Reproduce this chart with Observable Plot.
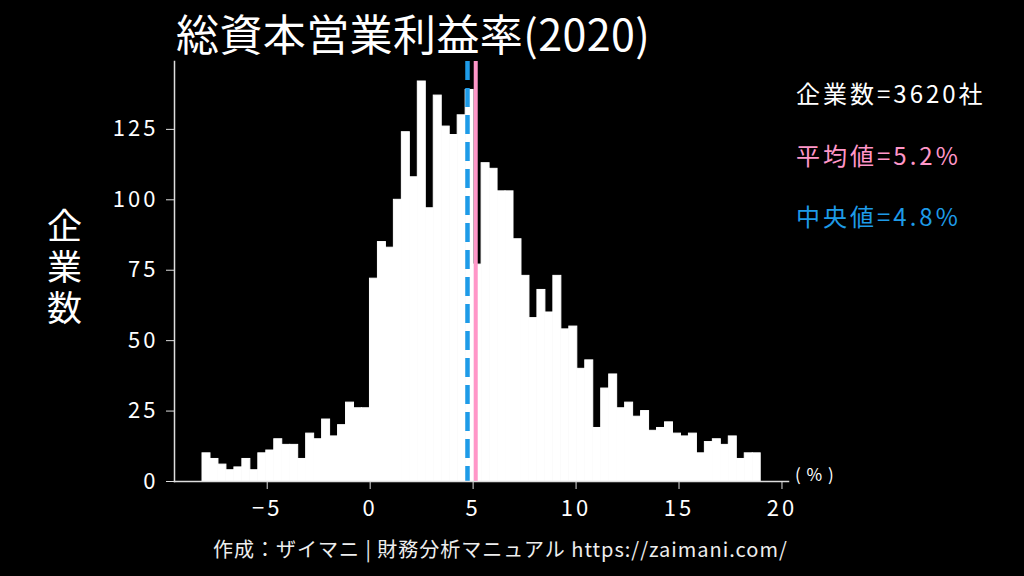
<!DOCTYPE html>
<html>
<head>
<meta charset="utf-8">
<script src="https://cdn.jsdelivr.net/npm/d3@7"></script>
<script src="https://cdn.jsdelivr.net/npm/@observablehq/plot@0.6"></script>
<style>
  html, body { margin: 0; padding: 0; background: #000; }
  #wrap { position: relative; width: 1024px; height: 576px; background: #000; overflow: hidden;
          font-family: "Noto Sans CJK JP", "Noto Sans", sans-serif; color: #fff; }
  #wrap svg { position: absolute; left: 0; top: 0; }
  #wrap svg text { letter-spacing: 3px; }
  .t { position: absolute; white-space: nowrap; line-height: 1; }
</style>
</head>
<body>
<div id="wrap"></div>
<script>
// ---- data ----
const titleText = "総資本営業利益率(2020)";
const yLabel = "企業数";
const unitLabel = "( % )";
const captionText = "作成：ザイマニ | 財務分析マニュアル https://zaimani.com/";
const totalCompanies = 3620;
const meanValue = 5.2;
const medianValue = 4.8;
const binStart = -8.07;     // left edge of first bin (%)
const binEnd = 19.04;       // right edge of last bin (%)
const counts = [
  10, 8, 6, 4, 5, 8, 4, 10, 11, 15, 13, 13, 8, 17, 15, 22, 16, 20, 28, 26, 26,
  72, 85, 83, 100, 124, 108, 142, 97, 137, 126, 123, 130, 139,
  77, 113, 111, 103, 103, 86, 73, 58, 68, 60, 73, 54, 55,
  40, 43, 19, 33, 38, 26, 28, 23, 25, 18, 19, 21, 17, 16, 17, 10, 14, 15, 13, 16, 8, 10, 10
];
const xTicks = [-5, 0, 5, 10, 15, 20];
const yTicks = [0, 25, 50, 75, 100, 125];

// ---- build table ----
const binWidth = (binEnd - binStart) / counts.length;
const bins = counts.map((c, i) => ({ x1: binStart + i * binWidth, x2: binStart + (i + 1) * binWidth, count: c }));

const pink = "#ff96c8";
const blue = "#1e9be8";
const fontFam = '"Noto Sans CJK JP", "Noto Sans", sans-serif';

const chart = Plot.plot({
  width: 1024,
  height: 576,
  marginLeft: 174,
  marginRight: 236,
  marginTop: 61,
  marginBottom: 95,
  style: { background: "transparent", color: "#fff", fontFamily: fontFam },
  x: { domain: [-9.43, 20.39], label: null },
  y: { domain: [0, 149.1], label: null },
  marks: [
    Plot.rect(bins, { x1: "x1", x2: "x2", y1: 0, y2: "count", fill: "#fff", stroke: "#fff", strokeWidth: 1 }),
    Plot.ruleX([medianValue], { stroke: blue, strokeWidth: 4.5, strokeDasharray: "19,8" }),
    Plot.ruleX([meanValue], { stroke: pink, strokeWidth: 4 }),
    Plot.frame({ anchor: "left", stroke: "#ddd", strokeWidth: 1.5 }),
    Plot.frame({ anchor: "bottom", stroke: "#ddd", strokeWidth: 1.5 }),
    Plot.axisX({ ticks: xTicks, tickSize: 8, tickPadding: 11, fontSize: 22, stroke: "#ddd", fill: "#fff", label: null, dx: 1.5 }),
    Plot.axisY({ ticks: yTicks, tickSize: 8, tickPadding: 8, fontSize: 22, stroke: "#ddd", fill: "#fff", label: null })
  ]
});

const wrap = document.getElementById("wrap");
wrap.appendChild(chart);

function addText(text, css) {
  const d = document.createElement("div");
  d.className = "t";
  d.textContent = text;
  Object.assign(d.style, css);
  wrap.appendChild(d);
  return d;
}

addText(titleText, { left: "176px", top: "1px", fontSize: "43px", lineHeight: "1.45", letterSpacing: "0.4px" });
addText(yLabel, { left: "47px", top: "208px", fontSize: "35px", writingMode: "vertical-rl", textOrientation: "upright", letterSpacing: "6px" });
addText(unitLabel, { left: "795px", top: "465px", fontSize: "17px", letterSpacing: "1px" });
addText(captionText, { left: "213px", top: "539px", fontSize: "20px", letterSpacing: "1px", color: "#eee" });
addText(`企業数=${totalCompanies}社`, { left: "796px", top: "81px", fontSize: "24px", letterSpacing: "3px" });
addText(`平均値=${meanValue}%`, { left: "796px", top: "143px", fontSize: "24px", letterSpacing: "3px", color: pink });
addText(`中央値=${medianValue}%`, { left: "796px", top: "204px", fontSize: "24px", letterSpacing: "3px", color: blue });
</script>
</body>
</html>
